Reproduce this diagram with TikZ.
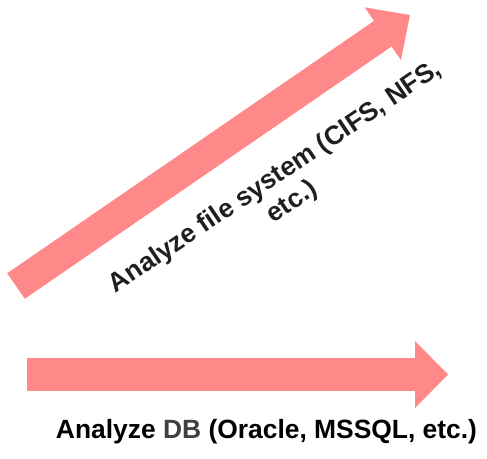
\documentclass[tikz,border=0pt]{standalone}
\usepackage{fontspec}
\setmainfont{Liberation Sans}
\usetikzlibrary{arrows.meta}
\definecolor{arrowpink}{RGB}{255,136,136}
\definecolor{dbgray}{RGB}{64,64,64}
\tikzset{
  bigarrow/.style={draw=arrowpink,line width=#1},
  label/.style={inner sep=0pt,font=\fontsize{26.4}{30}\selectfont\bfseries}
}
\begin{document}
\begin{tikzpicture}[x=1pt,y=-1pt]
    \useasboundingbox (0,0) rectangle (487,458);
    \coordinate (fstail) at (16,286);
    \coordinate (fstip) at (410,15);
    \coordinate (dbtail) at (27,374.5);
    \coordinate (dbtip) at (448,374.5);
    \draw[bigarrow=31pt,-{Triangle[length=33pt,width=64pt,line width=0pt]}] (fstail) -- (fstip);
    \draw[bigarrow=33pt,-{Triangle[length=33pt,width=67pt,line width=0pt]}] (dbtail) -- (dbtip);
    \node[label,text=black!88,align=center,rotate=34] (fslabel) at (284,190) {Analyze file system (CIFS, NFS,\\etc.)};
    \node[label,anchor=base] (dblabel) at (266.5,438) {Analyze \textcolor{dbgray}{DB} (Oracle, MSSQL, etc.)};
  \end{tikzpicture}
\end{document}
